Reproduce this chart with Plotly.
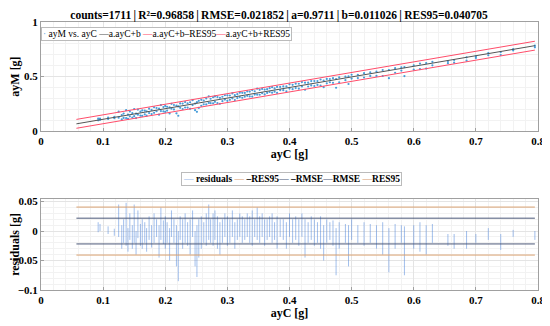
import plotly.graph_objects as go
from plotly.subplots import make_subplots

# ---- fit statistics (from title) ----
counts = 1711
R2 = 0.96858
RMSE = 0.021852
a = 0.9711
b = 0.011026
RES95 = 0.040705
fit_x = [0.057, 0.795]

ayC = [0.092,0.095,0.108,0.118,0.125,0.13,0.133,0.137,0.14,0.143,0.147,0.15,0.153,0.156,0.16,0.163,
       0.167,0.17,0.174,0.178,0.182,0.186,0.19,0.193,0.197,0.2,0.203,0.207,0.21,0.214,0.218,0.221,
       0.224,0.228,0.232,0.236,0.24,0.244,0.248,0.251,0.254,0.258,0.262,0.266,0.27,0.273,0.277,0.28,
       0.284,0.288,0.292,0.296,0.3,0.304,0.308,0.312,0.316,0.32,0.324,0.328,0.332,0.336,0.34,0.344,
       0.348,0.352,0.356,0.36,0.364,0.368,0.372,0.376,0.38,0.385,0.39,0.395,0.4,0.405,0.41,0.415,
       0.42,0.425,0.43,0.435,0.44,0.445,0.45,0.455,0.46,0.465,0.47,0.475,0.48,0.49,0.495,0.5,
       0.51,0.52,0.53,0.54,0.55,0.56,0.57,0.58,0.585,0.6,0.61,0.62,0.63,0.655,0.665,0.685,
       0.7,0.72,0.74,0.76,0.795]
res_a = [0.015,0.012,0.008,0.004,0.045,-0.03,-0.02,0.048,-0.035,-0.015,-0.03,0.045,-0.04,-0.012,-0.025,0.02,
         -0.02,-0.035,0.025,-0.028,0.03,-0.01,-0.045,0.04,-0.022,-0.03,0.015,-0.05,0.035,-0.02,-0.06,-0.085,
         0.025,-0.03,0.03,-0.025,-0.04,0.035,-0.06,-0.078,0.02,-0.03,0.015,-0.025,0.045,-0.02,0.03,-0.015,
         0.025,-0.04,0.02,-0.01,0.025,-0.02,0.035,-0.03,0.02,-0.01,0.025,-0.015,0.03,-0.02,0.035,-0.01,
         0.04,-0.02,0.03,-0.025,0.02,-0.01,0.03,-0.015,0.025,-0.01,0.02,-0.03,0.03,-0.02,0.025,-0.025,
         0.03,-0.045,0.015,-0.015,0.02,-0.02,0.025,-0.05,0.02,-0.015,0.018,-0.075,0.015,-0.02,0.01,-0.015,
         0.01,-0.025,0.012,-0.03,0.015,-0.07,0.012,-0.02,0.008,-0.03,0.015,-0.04,0.012,-0.025,-0.03,-0.03,
         -0.02,-0.015,-0.032,-0.01,-0.015]
res_b = [-0.002,0.0,-0.005,-0.008,-0.01,0.01,0.02,-0.025,0.005,0.03,0.01,-0.02,0.0,0.035,0.012,-0.03,
         0.015,0.005,-0.015,0.01,-0.02,0.02,0.01,-0.015,0.018,0.025,-0.02,0.005,-0.01,0.02,0.01,0.0,
         -0.015,0.02,-0.02,0.015,0.02,-0.01,0.0,0.01,-0.045,0.025,-0.02,0.03,-0.015,0.02,-0.025,0.035,
         -0.03,0.015,-0.02,0.03,-0.025,0.02,-0.01,0.015,-0.015,0.03,-0.02,0.02,-0.01,0.025,-0.025,0.02,
         -0.015,0.025,-0.01,0.02,-0.015,0.025,-0.02,0.015,-0.03,0.02,-0.015,0.015,-0.01,0.02,-0.015,0.02,
         -0.01,0.02,-0.02,0.025,-0.025,0.015,-0.03,0.01,-0.02,0.015,-0.025,0.005,-0.03,0.012,-0.06,0.02,
         -0.02,0.015,-0.02,0.01,-0.04,0.005,-0.03,0.01,-0.075,0.01,-0.035,0.01,-0.02,-0.005,-0.005,0.0,
         -0.005,0.005,-0.005,0.002,0.0]

# derived values for plotting
pts_x = ayC + ayC
pts_r = res_a + res_b
ayM = [a * x + b + r for x, r in zip(pts_x, pts_r)]
fit_y = [a * x + b for x in fit_x]
fit_lo = [y - RES95 for y in fit_y]
fit_hi = [y + RES95 for y in fit_y]
seg_x, seg_y = [], []
for x, r1, r2 in zip(ayC, res_a, res_b):
    seg_x += [x, x, None]
    seg_y += [r1, r2, None]

FONT = "Liberation Serif"
sep = "\u2009|\u2009"
title_txt = (f"counts={counts}{sep}R\u00b2={R2}{sep}RMSE={RMSE}{sep}a={a}{sep}b={b}"
             f"{sep}RES95={RES95}")

fig = make_subplots(rows=2, cols=1)

# top panel
fig.add_trace(go.Scatter(x=pts_x, y=ayM, mode="markers", name="ayM vs. ayC",
                         marker=dict(size=2.2, color="rgba(40,140,210,0.85)")), row=1, col=1)
fig.add_trace(go.Scatter(x=fit_x, y=fit_y, mode="lines", name="a.ayC+b",
                         line=dict(color="#555555", width=1)), row=1, col=1)
fig.add_trace(go.Scatter(x=fit_x, y=fit_lo, mode="lines", name="a.ayC+b\u2013RES95",
                         line=dict(color="#ff4d6a", width=1)), row=1, col=1)
fig.add_trace(go.Scatter(x=fit_x, y=fit_hi, mode="lines", name="a.ayC+b+RES95",
                         line=dict(color="#ff4d6a", width=1)), row=1, col=1)

# bottom panel
fig.add_trace(go.Scatter(x=seg_x, y=seg_y, mode="lines", name="residuals",
                         line=dict(color="rgba(60,120,215,0.6)", width=0.8)), row=2, col=1)
lines2 = [("\u2013RES95", -RES95, "#d9a070"), ("\u2013RMSE", -RMSE, "#4b5878"),
          ("RMSE", RMSE, "#4b5878"), ("RES95", RES95, "#d9a070")]
for nm, val, col in lines2:
    fig.add_trace(go.Scatter(x=fit_x, y=[val, val], mode="lines", name=nm,
                             line=dict(color=col, width=1)), row=2, col=1)

axis_common = dict(showline=True, mirror=True, linecolor="#a0a0a0", linewidth=1,
                   ticks="inside", ticklen=3, tickcolor="#a0a0a0",
                   showgrid=True, gridcolor="#e4e4e4", gridwidth=1,
                   zeroline=False, automargin=False,
                   tickfont=dict(family=FONT, size=11, color="black", weight="bold"),
                   minor=dict(showgrid=True, gridcolor="#f2f2f2", ticks=""))
fig.update_xaxes(axis_common)
fig.update_yaxes(axis_common)

xt = dict(text="<b>ayC [g]</b>", font=dict(family=FONT, size=12), standoff=3)
fig.update_xaxes(range=[0, 0.8], dtick=0.1, domain=[0, 1], title=xt, row=1, col=1)
fig.update_xaxes(range=[0, 0.8], dtick=0.1, domain=[0, 1], title=xt, row=2, col=1)
fig.update_yaxes(range=[0, 1], tickvals=[0, 0.5, 1], ticktext=["0", "0.5", "1"],
                 domain=[0.593, 1.0], minor=dict(dtick=0.1),
                 title=dict(text="<b>ayM [g]</b>", font=dict(family=FONT, size=12), standoff=7),
                 row=1, col=1)
fig.update_yaxes(range=[-0.1, 0.0546], tickvals=[-0.1, -0.05, 0, 0.05],
                 ticktext=["\u22120.1", "\u22120.05", "0", "0.05"], domain=[0.0, 0.34],
                 title=dict(text="<b>residuals [g]</b>", font=dict(family=FONT, size=12), standoff=4),
                 row=2, col=1)

def sw(color, ch="\u2014"):
    return f"<span style='color:{color}'>{ch}</span>"

leg1 = (sw("rgba(40,140,210,0.8)", "\u00b7") + " ayM vs. ayC " + sw("#555555") + "a.ayC+b "
        + sw("#ff4d6a") + "a.ayC+b\u2013RES95" + sw("#ff4d6a") + "a.ayC+b+RES95")
leg2 = (sw("rgba(60,120,215,0.6)") + " <b>residuals</b> " + sw("#d9a070") + " <b>\u2013RES95</b>"
        + sw("#4b5878") + " <b>\u2013RMSE</b>" + sw("#4b5878") + "<b>RMSE</b> " + sw("#d9a070")
        + "<b>RES95</b>")

# page has an 8px body margin, so the figure is sized to fit the 550x326 window
fig.update_layout(
    width=542, height=318,
    margin=dict(l=33, r=12, t=14, b=36, autoexpand=False),
    paper_bgcolor="white", plot_bgcolor="white",
    font=dict(family=FONT, size=11, color="black"),
    showlegend=False,
    title=dict(text="<b>" + title_txt + "</b>", x=0.5, xanchor="center", y=0.977, yanchor="middle",
               pad=dict(t=0, b=0),
               font=dict(family=FONT, size=11.5, color="black")),
    annotations=[
        dict(text=leg1, xref="paper", yref="paper", x=0.0, y=0.982, xanchor="left", yanchor="top",
             showarrow=False, bgcolor="white", bordercolor="#bbbbbb", borderwidth=1, borderpad=1,
             font=dict(family=FONT, size=9.5, color="black")),
        dict(text=leg2, xref="paper", yref="paper", x=0.505, y=0.414, xanchor="center", yanchor="middle",
             showarrow=False, bgcolor="white", bordercolor="#bbbbbb", borderwidth=1, borderpad=1,
             font=dict(family=FONT, size=9.5, color="black")),
    ],
)

fig.write_html("out.html")
